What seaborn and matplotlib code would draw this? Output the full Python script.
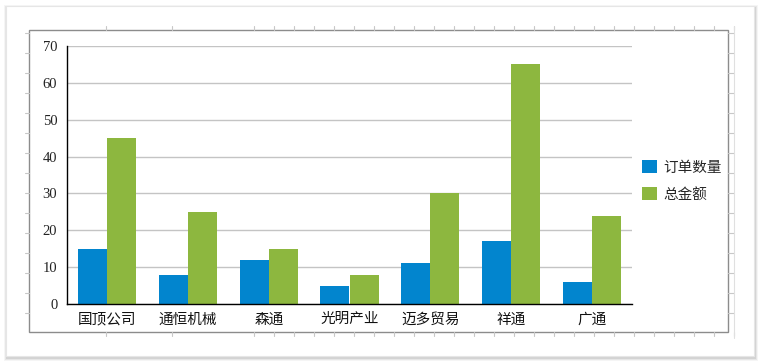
import pandas as pd
import matplotlib.pyplot as plt
import seaborn as sns
from matplotlib.patches import Rectangle, FancyBboxPatch
from matplotlib.ticker import FixedLocator

# ================= DATA =================
companies = ["国顶公司", "通恒机械", "森通", "光明产业", "迈多贸易", "祥通", "广通"]
order_count = [15, 8, 12, 5, 11, 17, 6]
total_amount = [45, 25, 15, 8, 30, 65, 24]
series_names = ["订单数量", "总金额"]
colors = ["#0285CE", "#8DB73F"]

df = pd.DataFrame({
    "company": companies * 2,
    "value": order_count + total_amount,
    "series": [series_names[0]] * len(companies) + [series_names[1]] * len(companies),
})

# ================= STYLE =================
sns.set_style("white")
plt.rcParams["font.family"] = ["Noto Sans CJK SC", "DejaVu Sans"]

W, H = 761, 363
fig = plt.figure(figsize=(W / 100, H / 100), dpi=100)
fig.patch.set_facecolor("white")

# background layer in pixel coords: card, frame, ruler ticks
bg = fig.add_axes([0, 0, 1, 1], zorder=-5)
bg.set_xlim(0, W)
bg.set_ylim(H, 0)
bg.axis("off")
# card shadow + card
for off, a in [(3, 0.04), (2, 0.06), (1, 0.08)]:
    bg.add_patch(Rectangle((6 - off + 1, 6 - off + 2), 749 + 2 * off - 1, 351 + 2 * off - 1,
                           facecolor="black", alpha=a, edgecolor="none"))
bg.add_patch(Rectangle((6, 6), 748, 350, facecolor="white", edgecolor="#E6E6E6", lw=0.8))
# frame
bg.add_patch(Rectangle((29, 30), 699, 302, facecolor="white", edgecolor="#8C8C8C", lw=1))
# ruler
rc = "#C8C8C8"
xs = [106, 172] + list(range(254, 735, 20))
for x in xs:
    bg.plot([x, x], [26, 30], color=rc, lw=0.8)
    bg.plot([x, x], [332, 336], color=rc, lw=0.8)
for y in range(33, 333, 20):
    bg.plot([25, 29], [y, y], color=rc, lw=0.8)
    bg.plot([728, 734], [y, y], color=rc, lw=0.8)
bg.plot([734, 734], [26, 338], color="#E0E0E0", lw=0.8)

# ================= CHART =================
ax = fig.add_axes([67 / W, 59 / H, (632 - 67) / W, (304 - 46) / H])
ax.set_facecolor("none")
sns.barplot(data=df, x="company", y="value", hue="series", palette=colors,
            width=0.72, saturation=1, linewidth=0, ax=ax)

ax.set_xlim(-0.5, len(companies) - 0.5)
ax.set_ylim(0, 70)
ax.set_yticks(range(0, 71, 10))
ax.set_xlabel("")
ax.set_ylabel("")
ax.yaxis.grid(True, color="#C4C4C4", lw=1)
ax.set_axisbelow(True)

for s in ["top", "right"]:
    ax.spines[s].set_visible(False)
for s in ["left", "bottom"]:
    ax.spines[s].set_color("black")
    ax.spines[s].set_linewidth(1)

ax.tick_params(axis="y", length=0, pad=7, labelsize=10.5, labelcolor="#222222")
for t in ax.get_yticklabels():
    t.set_family(["Liberation Serif", "DejaVu Serif"])
ax.tick_params(axis="x", which="major", length=0, pad=6, labelsize=10.5, labelcolor="#111111")
ax.xaxis.set_minor_locator(FixedLocator([i - 0.5 for i in range(len(companies) + 1)]))
ax.tick_params(axis="x", which="minor", length=6, color="#A0A0A0", width=0.8)

# legend
ax.legend_.remove()
handles = [FancyBboxPatch((0, 0), 1, 1, boxstyle="round,pad=0,rounding_size=0.25",
                          facecolor=c, edgecolor="none") for c in colors]
fig.legend(handles, series_names, loc="center left",
           bbox_to_anchor=(629 / W, (H - 181) / H), frameon=False,
           fontsize=10.5, handlelength=1.0, handleheight=1.0,
           handletextpad=0.45, labelspacing=0.85)

plt.savefig("out.png", dpi=100)
